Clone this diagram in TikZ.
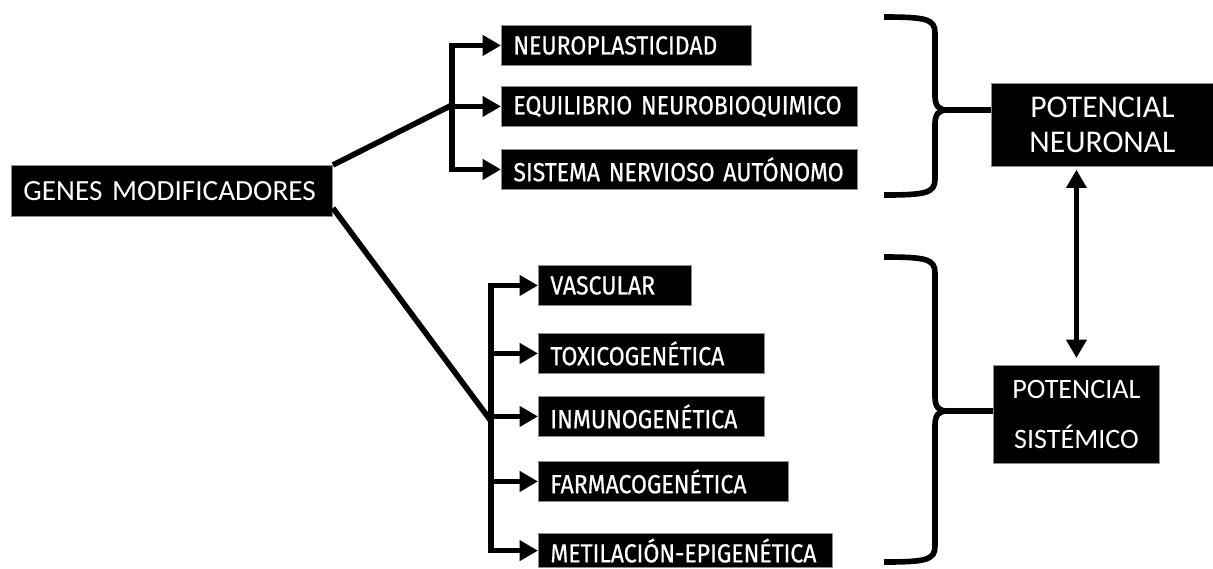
\documentclass[tikz,border=0pt]{standalone}
\usepackage{fontspec}
\setmainfont{Fira Sans}
\newfontfamily\calfont{Carlito}
\newfontfamily\cajafont[FakeStretch=0.88, FakeBold=0.6]{Fira Sans}
\usetikzlibrary{arrows.meta}
\def\llave(#1:#2:#3:#4){\draw[linea] (884,#1) .. controls (926,#1) and (#4,#1+2) .. (#4,#1+16) -- (#4,#3-14) .. controls (#4,#3-4) and (#4+4,#3) .. (#4+12,#3) .. controls (#4+4,#3) and (#4,#3+4) .. (#4,#3+14) -- (#4,#2-16) .. controls (#4,#2-2) and (926,#2) .. (884,#2);}

\tikzset{
	caja/.style={fill=black, draw=black!45, line width=0.6pt, text=white, anchor=north west, inner xsep=0.3cm, inner ysep=0pt, minimum height=1cm, align=left, font=\cajafont\fontsize{18.6}{21}\selectfont},
	titulo/.style={fill=black, draw=black!45, line width=0.6pt, text=white, anchor=north west, inner sep=0pt, align=center},
	linea/.style={line width=4pt},
	flecha/.style={line width=4pt, -{Triangle[length=13pt,width=14pt]}},
}

\begin{document}
\begin{tikzpicture}[x=0.025cm, y=-0.025cm]
			%%%%% START %%%%%
			\useasboundingbox (0,0) rectangle (1213,568);
			
			\node[titulo, text width=7.425cm, inner xsep=0.3cm, align=left, minimum height=1.275cm, font=\calfont\fontsize{20.8}{24}\selectfont] (genes) at (11,165) {GENES MODIFICADORES};
			
			\node[caja, text width=5.65cm] (neuro) at (501,25) {NEUROPLASTICIDAD};
			\node[caja, text width=8.3cm] (equil) at (501,86) {EQUILIBRIO NEUROBIOQUIMICO};
			\node[caja, text width=8.3cm] (sna) at (501,149) {SISTEMA NERVIOSO AUTÓNOMO};
			
			\node[caja, text width=3.225cm] (vasc) at (538,265) {VASCULAR};
			\node[caja, text width=5.05cm] (toxi) at (538,333) {TOXICOGENÉTICA};
			\node[caja, text width=5.05cm] (inmu) at (538,396) {INMUNOGENÉTICA};
			\node[caja, text width=5.65cm] (farm) at (538,461) {FARMACOGENÉTICA};
			\node[caja, text width=6.75cm, minimum height=0.86cm] (meti) at (538,533) {METILACIÓN-EPIGENÉTICA};
			
			\node[titulo, minimum width=5.55cm, minimum height=2.075cm, font=\calfont\fontsize{22.5}{25}\selectfont] (potn) at (991,83) {POTENCIAL\\NEURONAL};
			\node[titulo, minimum width=4.15cm, minimum height=2.45cm, font=\calfont\fontsize{20}{36}\selectfont] (pots) at (993,365) {POTENCIAL\\SISTÉMICO};
			
			% ramas
			\coordinate (jn) at (452,105);
			\coordinate (js) at (491,421);
			\draw[linea] (genes.north east) -- (jn);
			\draw[linea] ([yshift=0.22cm]genes.south east) -- (js);
			
			\draw[flecha] (jn) |- (neuro);
			\draw[flecha] (jn) |- (equil);
			\draw[flecha] (jn) |- (sna);
			
			\draw[flecha] (js) |- (vasc);
			\draw[flecha] (js) |- (toxi);
			\draw[flecha] (js) |- (inmu);
			\draw[flecha] (js) |- (farm);
			\draw[flecha] (js) |- (meti);
			
			% llaves
			\llave(17:195:110:935)
			\llave(257:562:411:935)
			\coordinate (tn) at (947,110);
			\coordinate (ts) at (947,411);
			\draw[linea] (tn) -- (tn -| potn.west);
			\draw[linea] (ts) -- (ts -| pots.west);
			
			\draw[line width=4pt, {Triangle[length=13pt,width=14pt]}-{Triangle[length=13pt,width=14pt]}, shorten <=2pt, shorten >=5pt] (potn.south -| pots.north) -- (pots.north);
			%%%%% END %%%%%
\end{tikzpicture}
\end{document}
